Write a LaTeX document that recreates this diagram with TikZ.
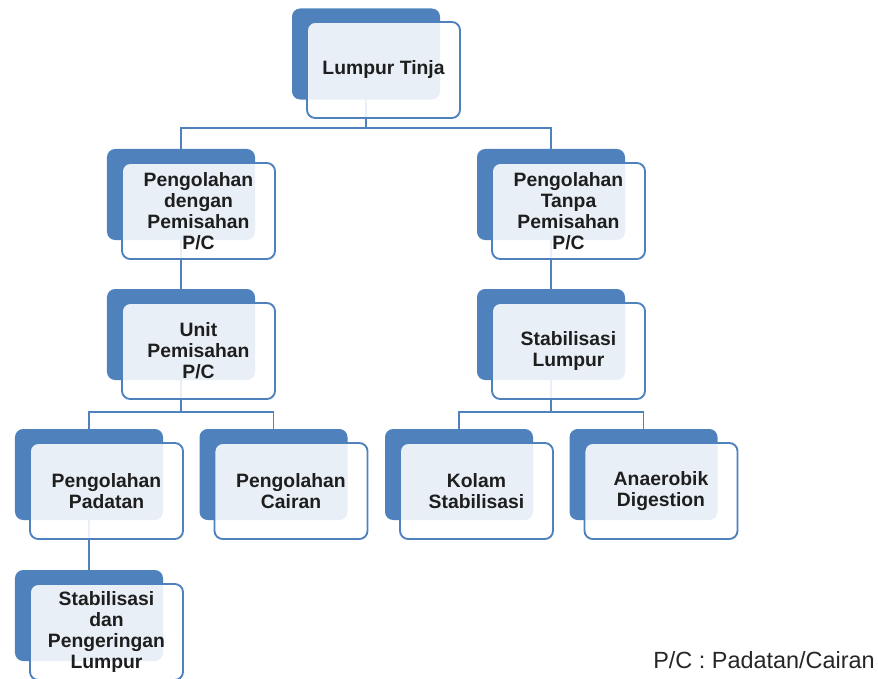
\documentclass[tikz,border=0pt]{standalone}
\usepackage{fontspec}
\setmainfont{Liberation Sans}
\usepackage{tikz}
\usetikzlibrary{positioning, backgrounds}
\usepackage{xcolor}
\definecolor{boxblue}{HTML}{4F81BD}
\definecolor{boxtext}{HTML}{1E1E1E}

\tikzset{
	backbox/.style={rectangle, rounded corners=7pt, fill=boxblue, minimum width=4.44cm, minimum height=2.73cm, inner sep=0pt},
	frontbox/.style={rectangle, rounded corners=7pt, draw=boxblue, line width=1.6pt, fill=white, fill opacity=0.88, text opacity=1, minimum width=4.59cm, minimum height=2.88cm, inner sep=2pt, align=center, text=boxtext, font=\bfseries\fontsize{16.5}{18}\selectfont},
	link/.style={draw=boxblue, line width=1.5pt}
}

\begin{document}
\begin{tikzpicture}[x=0.03cm, y=-0.03cm]
		\useasboundingbox (0,0) rectangle (878,678);

		% back shadows
		\node[backbox] (b0) at (366,54) {};
		\node[backbox] (b1) at (181,194.5) {};
		\node[backbox] (b2) at (551,194.5) {};
		\node[backbox] (b3) at (181,334.5) {};
		\node[backbox] (b4) at (551,334.5) {};
		\node[backbox] (b5) at (89,474.5) {};
		\node[backbox] (b6) at (273.5,474.5) {};
		\node[backbox] (b7) at (459,474.5) {};
		\node[backbox] (b8) at (643.5,474.5) {};
		\node[backbox] (b9) at (89,615.5) {};

		% front boxes
		\node[frontbox] (tinja) at (383.5,70) {Lumpur Tinja};
		\node[frontbox] (dengan) at (198.5,211) {Pengolahan\\dengan\\Pemisahan\\P/C};
		\node[frontbox] (tanpa) at (568.5,211) {Pengolahan\\Tanpa\\Pemisahan\\P/C};
		\node[frontbox] (unit) at (198.5,351) {Unit\\Pemisahan\\P/C};
		\node[frontbox] (stablumpur) at (568.5,351) {Stabilisasi\\Lumpur};
		\node[frontbox] (padatan) at (106.5,491) {Pengolahan\\Padatan};
		\node[frontbox] (cairan) at (291,491) {Pengolahan\\Cairan};
		\node[frontbox] (kolam) at (476.5,491) {Kolam\\Stabilisasi};
		\node[frontbox] (anaerob) at (661,491) {Anaerobik\\Digestion};
		\node[frontbox] (kering) at (106.5,632) {Stabilisasi\\dan\\Pengeringan\\Lumpur};

		\coordinate (bus0) at (366,128);
		\coordinate (bus1) at (181,412);
		\coordinate (bus2) at (551,412);

		\begin{scope}[on background layer]
			\draw[link] (b0.center) -- (bus0) -| (b1.north);
			\draw[link] (bus0) -| (b2.north);
			\draw[link] (b1.center) -- (b3.north);
			\draw[link] (b2.center) -- (b4.north);
			\draw[link] (b3.center) -- (bus1) -| (b5.north);
			\draw[link] (bus1) -| (b6.north);
			\draw[link] (b4.center) -- (bus2) -| (b7.north);
			\draw[link] (bus2) -| (b8.north);
			\draw[link] (b5.center) -- (b9.north);
		\end{scope}

		\node[anchor=base east, text=black!85, font=\fontsize{20}{22}\selectfont, inner sep=0pt] (legend) at (875,668) {P/C : Padatan/Cairan};
	\end{tikzpicture}
\end{document}
